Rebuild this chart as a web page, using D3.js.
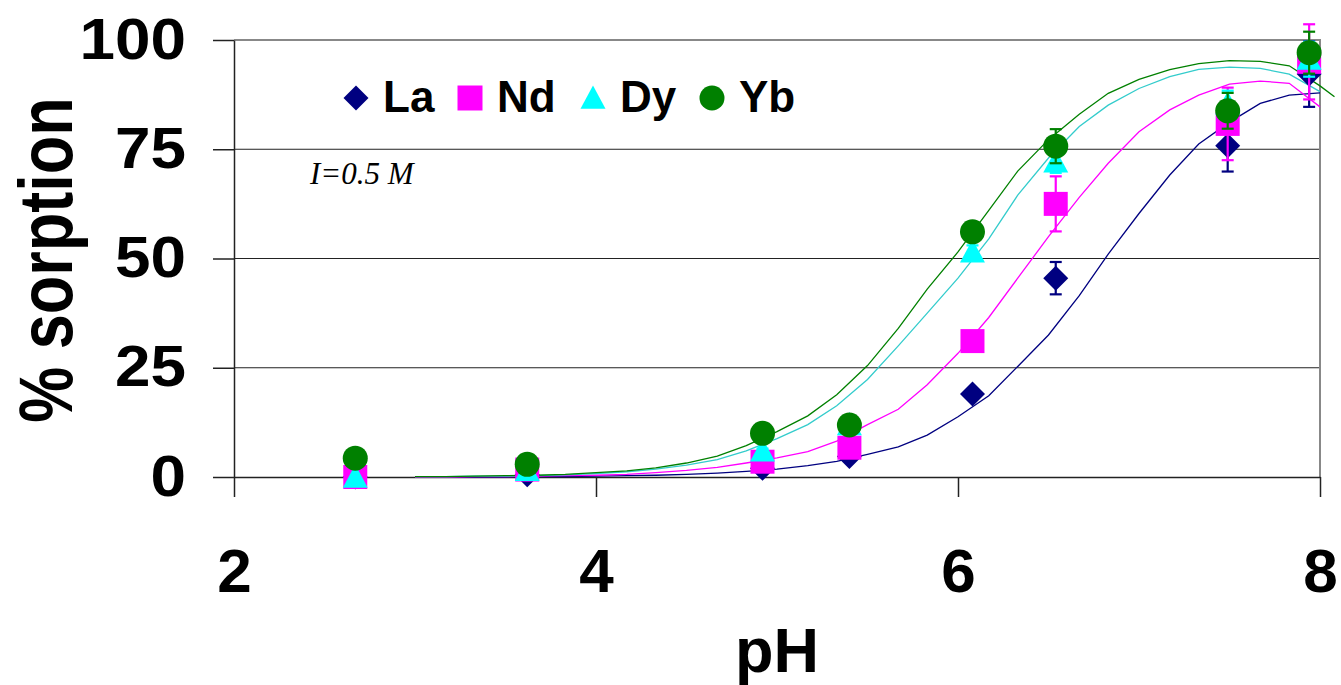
<!DOCTYPE html>
<html>
<head>
<meta charset="utf-8">
<script src="https://cdn.jsdelivr.net/npm/d3@7"></script>
<style>
  body { margin:0; background:#fff; }
  svg { display:block; }
</style>
</head>
<body>
<div class="svg-container"></div>
<script>
// measured points
const ph = [2.67, 3.62, 4.92, 5.40, 6.08, 6.54, 7.49, 7.94];
const la = [0, 0.5, 2.0, 4.7, 19.0, 45.5, 75.8, 92.2];
const nd = [0, 1.7, 3.5, 6.7, 31.1, 62.5, 80.8, 95.0];
const dy = [0, 1.5, 6.0, 12.0, 51.5, 72.1, 85.4, 95.6];
const yb = [4.3, 2.9, 10.0, 11.9, 56.1, 75.7, 83.8, 97.1];
const laErr = [0, 0, 0.5, 0.5, 1, 3.7, 5.9, 7.5];
const ndErr = [0.3, 0.5, 0.5, 1, 2, 6.3, 8.3, 8.6];
const dyErr = [0, 0.5, 0.5, 1, 1.5, 2.5, 3, 4];
const ybErr = [0.5, 0.5, 0.5, 0.5, 1.5, 3.9, 4.1, 4.8];

// model curves
const fitPH = [3.00,3.17,3.33,3.50,3.67,3.83,4.00,4.17,4.33,4.50,4.67,4.83,5.00,5.17,5.33,5.50,5.67,5.83,6.00,6.17,6.33,6.50,6.67,6.83,7.00,7.17,7.33,7.50,7.67,7.83,8.00];
const fitPHYb = [3.00,3.17,3.33,3.50,3.67,3.83,4.00,4.17,4.33,4.50,4.67,4.83,5.00,5.17,5.33,5.50,5.67,5.83,6.00,6.17,6.33,6.50,6.67,6.83,7.00,7.17,7.33,7.50,7.67,7.83,8.00,8.08];
const fitLa = [0,0,0,0,0.1,0.1,0.2,0.3,0.4,0.6,0.9,1.3,1.8,2.6,3.6,5.2,6.9,9.6,13.8,18.6,25.3,32.5,41.5,51.0,60.3,69.1,76.2,81.2,85.5,87.4,87.9];
const fitNd = [0,0,0.1,0.1,0.2,0.3,0.4,0.6,1.0,1.5,2.2,3.2,4.4,5.8,8.2,12.0,15.5,21.1,28.3,36.5,45.5,55.0,64.0,71.8,79.0,84.0,87.4,89.9,90.6,90.1,84.7];
const fitDy = [0.1,0.1,0.2,0.2,0.3,0.5,0.8,1.2,1.8,2.7,4.0,6.0,8.8,12.0,16.3,22.3,30.0,37.5,45.5,54.5,64.5,73.0,80.2,85.1,88.9,91.6,93.3,93.8,93.5,92.2,88.2];
const fitYb = [0.1,0.1,0.2,0.3,0.4,0.6,1.0,1.4,2.1,3.2,4.8,7.2,10.4,14.0,18.8,25.5,34.0,43.0,51.5,61.0,70.0,77.2,83.0,87.8,91.0,93.2,94.6,95.3,95.1,94.1,89.5,87.0];

const xTicks = [2, 4, 6, 8];
const yTicks = [0, 25, 50, 75, 100];
const names = ['La', 'Nd', 'Dy', 'Yb'];

const width = 1341, height = 685;
const plot = { left:234, right:1320, top:40, bottom:477 };
const font = "'Liberation Sans', Arial, sans-serif";

const series = [
  { name:'La', vals:la, err:laErr, fx:fitPH, fy:fitLa, fill:'#000080', line:'#000080', shape:'diamond' },
  { name:'Nd', vals:nd, err:ndErr, fx:fitPH, fy:fitNd, fill:'#ff00ff', line:'#ff00ff', shape:'square' },
  { name:'Dy', vals:dy, err:dyErr, fx:fitPH, fy:fitDy, fill:'#00ffff', line:'#33cccc', shape:'triangle' },
  { name:'Yb', vals:yb, err:ybErr, fx:fitPHYb, fy:fitYb, fill:'#008000', line:'#008000', shape:'circle' }
];

const xScale = d3.scaleLinear().domain([2, 8]).range([plot.left, plot.right]);
const yScale = d3.scaleLinear().domain([0, 100]).range([plot.bottom, plot.top]);

const svg = d3.select('.svg-container')
  .append('svg')
  .attr('width', width)
  .attr('height', height);

// gridlines
svg.append('g')
  .selectAll('line')
  .data([25, 50, 75])
  .join('line')
  .attr('x1', plot.left).attr('x2', plot.right)
  .attr('y1', d => yScale(d)).attr('y2', d => yScale(d))
  .attr('stroke', '#222').attr('stroke-width', 1);

// plot border (top + right)
svg.append('path')
  .attr('d', `M${plot.left},${yScale(100)}H${plot.right}V${plot.bottom}`)
  .attr('fill', 'none').attr('stroke', '#888').attr('stroke-width', 2);

// axes
const xAxis = d3.axisBottom(xScale).tickValues(xTicks).tickFormat(d3.format('d'))
  .tickSize(20).tickSizeOuter(0).tickPadding(51);
const yAxis = d3.axisLeft(yScale).tickValues(yTicks).tickFormat(d3.format('d'))
  .tickSize(21).tickSizeOuter(0).tickPadding(27);

svg.append('g')
  .attr('class', 'x-axis')
  .attr('transform', `translate(0,${plot.bottom})`)
  .call(xAxis)
  .call(g => g.selectAll('line, path').attr('stroke', '#222').attr('stroke-width', 1.5))
  .call(g => g.selectAll('text').attr('font-family', font).attr('font-weight', 'bold')
    .attr('font-size', 62).attr('fill', '#000'));

svg.append('g')
  .attr('class', 'y-axis')
  .attr('transform', `translate(${plot.left},0)`)
  .call(yAxis)
  .call(g => g.selectAll('line, path').attr('stroke', '#222').attr('stroke-width', 1.5))
  .call(g => g.selectAll('text').attr('font-family', font).attr('font-weight', 'bold')
    .attr('font-size', 57).attr('fill', '#000'));

// stretch y tick labels a little, like the original
d3.selectAll('.y-axis>.tick>text')
  .each(function() {
    const t = d3.select(this);
    const tx = +t.attr('x');
    t.attr('x', 0).attr('transform', `translate(${tx},0) scale(1.12,1)`);
  });

// axis titles
svg.append('text')
  .attr('x', 777).attr('y', 672)
  .attr('text-anchor', 'middle')
  .attr('font-family', font).attr('font-weight', 'bold').attr('font-size', 63)
  .text('pH');

svg.append('text')
  .attr('transform', 'translate(72,260) rotate(-90) scale(1,1.2)')
  .attr('text-anchor', 'middle')
  .attr('font-family', font).attr('font-weight', 'bold').attr('font-size', 63)
  .text('% sorption');

// fitted curves
const line = d3.line().x(d => xScale(d[0])).y(d => yScale(d[1]));
series.forEach(s => {
  svg.append('path')
    .datum(s.fx.map((p, i) => [p, s.fy[i]]))
    .attr('d', line)
    .attr('fill', 'none')
    .attr('stroke', s.line)
    .attr('stroke-width', 1.3);
});

// marker shapes
const markerPath = (shape, r) => {
  if (shape === 'diamond') return `M0,${-r}L${r},0L0,${r}L${-r},0Z`;
  if (shape === 'square') return `M${-r},${-r}H${r}V${r}H${-r}Z`;
  if (shape === 'triangle') return `M0,${-r}L${r},${r * 0.85}H${-r}Z`;
  return d3.arc()({ innerRadius:0, outerRadius:r, startAngle:0, endAngle:2 * Math.PI });
};

// error bars and markers
series.forEach(s => {
  const pts = ph.map((p, i) => ({ x:p, y:s.vals[i], e:s.err[i] }));
  const eb = svg.append('g').attr('stroke', s.fill).attr('stroke-width', 2.2);
  pts.filter(d => d.e > 0).forEach(d => {
    const cx = xScale(d.x), y1 = yScale(d.y - d.e), y2 = yScale(d.y + d.e);
    eb.append('line').attr('x1', cx).attr('x2', cx).attr('y1', y1).attr('y2', y2);
    eb.append('line').attr('x1', cx - 6).attr('x2', cx + 6).attr('y1', y1).attr('y2', y1);
    eb.append('line').attr('x1', cx - 6).attr('x2', cx + 6).attr('y1', y2).attr('y2', y2);
  });
  svg.append('g')
    .selectAll('path')
    .data(pts)
    .join('path')
    .attr('transform', d => `translate(${xScale(d.x)},${yScale(d.y)})`)
    .attr('d', markerPath(s.shape, s.shape === 'square' ? 12 : 12.5))
    .attr('fill', s.fill);
});

// legend
const legX = [356, 470, 593, 712];
const legend = svg.append('g');
series.forEach((s, i) => {
  legend.append('path')
    .attr('transform', `translate(${legX[i]},98)`)
    .attr('d', markerPath(s.shape, 12.5))
    .attr('fill', s.fill);
  legend.append('text')
    .attr('x', legX[i] + 27).attr('y', 112)
    .attr('font-family', font).attr('font-weight', 'bold').attr('font-size', 44)
    .text(names[i]);
});

// annotation
svg.append('text')
  .attr('x', 310).attr('y', 184)
  .attr('font-family', "'Liberation Serif', 'Times New Roman', serif")
  .attr('font-style', 'italic').attr('font-size', 31)
  .text('I=0.5 M');
</script>
</body>
</html>
